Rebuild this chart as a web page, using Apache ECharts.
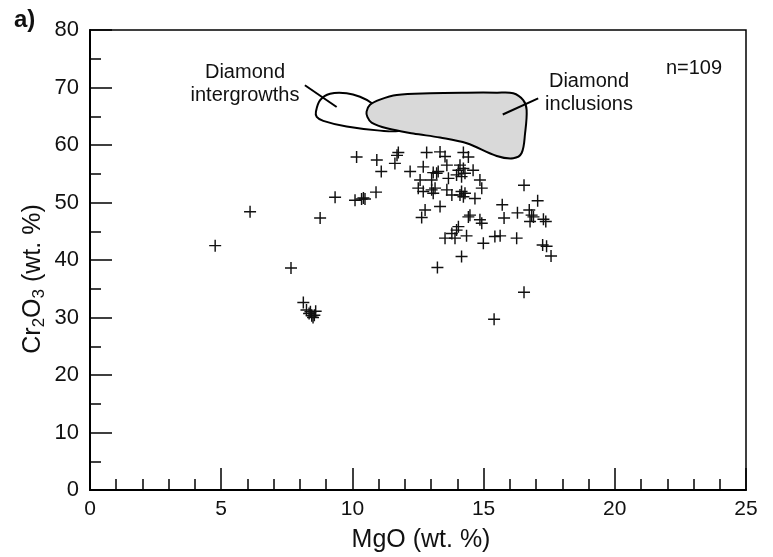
<!DOCTYPE html>
<html>
<head>
<meta charset="utf-8">
<script src="https://cdn.jsdelivr.net/npm/echarts/dist/echarts.min.js"></script>
<style>
  html, body { margin: 0; padding: 0; background: #fff; }
  #chart { width: 773px; height: 557px; }
</style>
</head>
<body>
<div id="chart"></div>
<script>
// Chromite analyses: MgO vs Cr2O3 (wt. %)
const mgo = [
  4.77, 6.1, 7.66, 8.77, 9.34, 10.16, 10.1, 10.35, 10.42, 10.48,
  10.93, 10.9, 11.1, 8.13, 8.25, 8.35, 8.45, 8.55, 8.5, 8.6,
  8.4, 11.75, 11.7, 11.62, 12.2, 12.83, 13.34, 13.53, 14.23, 14.42,
  12.7, 13.6, 14.1, 14.23, 14.04, 14.6, 13.08, 13.21, 13.27, 12.58,
  13.02, 13.66, 13.97, 14.16, 14.29, 14.86, 14.93, 12.51, 12.7, 13.02,
  13.08, 13.15, 13.6, 13.79, 14.16, 14.23, 14.29, 14.1, 14.67, 13.34,
  12.77, 12.64, 14.48, 14.42, 14.86, 14.93, 14.04, 13.97, 13.79, 13.53,
  13.91, 14.35, 14.99, 15.43, 15.63, 16.26, 14.16, 13.24, 16.54, 15.4,
  16.54, 15.71, 15.78, 16.29, 16.74, 16.83, 16.77, 16.9, 17.06, 17.28,
  17.37, 17.25, 17.4, 17.57
];
const cr2o3 = [
  42.5, 48.4, 38.6, 47.3, 50.9, 57.9, 50.4, 50.6, 50.8, 50.6,
  57.4, 51.8, 55.4, 32.6, 31.3, 30.7, 30.3, 30.4, 30.0, 31.1,
  31.0, 58.7, 58.2, 56.8, 55.4, 58.7, 58.8, 58.0, 58.7, 57.9,
  56.2, 56.5, 56.5, 55.9, 55.6, 55.6, 55.2, 55.1, 55.4, 53.9,
  53.9, 54.2, 54.8, 54.5, 55.1, 53.9, 52.5, 52.5, 51.9, 52.2,
  51.6, 52.5, 52.2, 51.3, 51.9, 51.0, 51.6, 51.3, 50.7, 49.3,
  48.7, 47.4, 47.8, 47.5, 47.0, 46.4, 45.8, 45.2, 44.6, 43.8,
  43.8, 44.2, 42.9, 44.1, 44.2, 43.8, 40.6, 38.7, 34.4, 29.7,
  53.0, 49.6, 47.3, 48.2, 48.7, 47.8, 46.7, 47.5, 50.3, 47.1,
  46.7, 42.6, 42.4, 40.7
];

// Field outlines (MgO, Cr2O3)
const intergrowthMgO = [8.61, 8.77, 9.15, 9.78, 10.29, 10.73, 11.3, 11.81, 11.05, 9.78, 8.89, 8.64];
const intergrowthCr  = [65.8, 67.8, 68.9, 69.0, 68.4, 67.3, 65.0, 62.6, 62.5, 63.2, 64.2, 64.9];
const inclusionMgO = [10.54, 10.67, 11.05, 11.69, 12.96, 14.36, 15.5, 16.13, 16.51, 16.64, 16.58, 16.45, 16.13, 15.5, 14.36, 13.34, 12.32, 11.31, 10.73, 10.57];
const inclusionCr  = [65.8, 67.0, 67.9, 68.7, 69.0, 69.1, 69.1, 69.0, 67.8, 66.1, 62.0, 58.6, 57.7, 58.1, 60.3, 61.3, 62.0, 62.9, 63.9, 64.9];

// Leader lines from the field labels into the fields
const leaderFromMgO = [8.19, 17.08];
const leaderFromCr  = [70.4, 68.1];
const leaderToMgO   = [9.4, 15.73];
const leaderToCr    = [66.6, 65.3];

const xTickValues = [0, 5, 10, 15, 20, 25];
const yTickValues = [0, 10, 20, 30, 40, 50, 60, 70, 80];

const FONT = '"Liberation Sans", Arial, Helvetica, sans-serif';
const points = mgo.map((x, i) => [x, cr2o3[i]]);

function fieldSeries(xs, ys, fill, z) {
  return {
    type: 'custom',
    coordinateSystem: 'cartesian2d',
    silent: true,
    z: z,
    clip: false,
    data: [[xs[0], ys[0]]],
    renderItem: function (params, api) {
      const pts = xs.map((x, i) => api.coord([x, ys[i]]));
      return {
        type: 'polygon',
        shape: { points: pts, smooth: 0.35 },
        style: { fill: fill, stroke: '#000', lineWidth: 2 }
      };
    }
  };
}

const chart = echarts.init(document.getElementById('chart'), null, { renderer: 'canvas' });

chart.setOption({
  animation: false,
  backgroundColor: '#fff',
  grid: {
    left: 90, right: 27, top: 30, bottom: 67,
    containLabel: false,
    outerBoundsMode: 'none',
    show: true,
    borderColor: '#000',
    borderWidth: 1.5,
    backgroundColor: 'transparent'
  },
  xAxis: {
    type: 'value',
    min: 0, max: 25, interval: 5,
    name: 'MgO (wt. %)',
    nameLocation: 'middle',
    nameGap: 38,
    nameTextStyle: { fontFamily: FONT, fontSize: 25, color: '#111', padding: [0, 0, 0, 6] },
    axisLine: { onZero: false, lineStyle: { color: '#000', width: 2 } },
    axisTick: { inside: true, length: 22, lineStyle: { color: '#000', width: 1.5 } },
    minorTick: { show: true, splitNumber: 5, length: 11, lineStyle: { color: '#000', width: 1.5 } },
    axisLabel: {
      margin: 9, fontFamily: FONT, fontSize: 21, color: '#111',
      formatter: v => (xTickValues.indexOf(v) >= 0 ? String(v) : '')
    },
    splitLine: { show: false },
    minorSplitLine: { show: false }
  },
  yAxis: {
    type: 'value',
    min: 0, max: 80, interval: 10,
    axisLine: { onZero: false, lineStyle: { color: '#000', width: 2 } },
    axisTick: { inside: true, length: 22, lineStyle: { color: '#000', width: 1.5 } },
    minorTick: { show: true, splitNumber: 2, length: 11, lineStyle: { color: '#000', width: 1.5 } },
    axisLabel: {
      margin: 11, fontFamily: FONT, fontSize: 22, color: '#111',
      formatter: v => (yTickValues.indexOf(v) >= 0 ? String(v) : '')
    },
    splitLine: { show: false },
    minorSplitLine: { show: false }
  },
  graphic: [
    { type: 'text', x: 14, y: 8, style: { text: 'a)', font: 'bold 24px ' + FONT, fill: '#111' } },
    {
      type: 'text', x: 33, y: 279, rotation: Math.PI / 2,
      style: {
        text: '{n|Cr}{s|2}{n|O}{s|3}{n| (wt. %)}',
        align: 'center', verticalAlign: 'middle',
        rich: {
          n: { fontFamily: FONT, fontSize: 25, fill: '#111', lineHeight: 30 },
          s: { fontFamily: FONT, fontSize: 17, fill: '#111', verticalAlign: 'bottom', lineHeight: 30 }
        }
      }
    },
    { type: 'text', x: 694, y: 68, style: { text: 'n=109', font: '20px ' + FONT, fill: '#111', align: 'center', verticalAlign: 'middle' } },
    { type: 'text', x: 245, y: 84, style: { text: 'Diamond\nintergrowths', font: '20px ' + FONT, lineHeight: 23, fill: '#111', align: 'center', verticalAlign: 'middle' } },
    { type: 'text', x: 589, y: 93, style: { text: 'Diamond\ninclusions', font: '20px ' + FONT, lineHeight: 23, fill: '#111', align: 'center', verticalAlign: 'middle' } }
  ],
  series: [
    fieldSeries(intergrowthMgO, intergrowthCr, '#ffffff', 1),
    fieldSeries(inclusionMgO, inclusionCr, '#d9d9d9', 2),
    {
      type: 'custom',
      coordinateSystem: 'cartesian2d',
      silent: true,
      z: 3,
      clip: false,
      data: leaderFromMgO.map((x, i) => [x, leaderFromCr[i], leaderToMgO[i], leaderToCr[i]]),
      renderItem: function (params, api) {
        const a = api.coord([api.value(0), api.value(1)]);
        const b = api.coord([api.value(2), api.value(3)]);
        return {
          type: 'line',
          shape: { x1: a[0], y1: a[1], x2: b[0], y2: b[1] },
          style: { stroke: '#000', lineWidth: 2 }
        };
      }
    },
    {
      type: 'scatter',
      z: 4,
      data: points,
      symbol: 'path://M4.4,0H5.6V10H4.4Z M0,4.4H10V5.6H0Z',
      symbolSize: 12,
      itemStyle: { color: '#111', opacity: 1 },
      emphasis: { disabled: true }
    }
  ]
});
</script>
</body>
</html>
